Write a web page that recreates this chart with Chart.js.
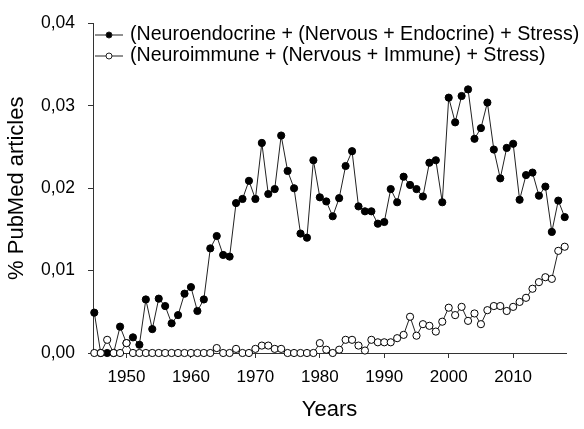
<!DOCTYPE html>
<html><head><meta charset="utf-8">
<script src="https://cdn.jsdelivr.net/npm/chart.js@4"></script>
<style>html,body{margin:0;padding:0;background:#fff}canvas{display:block}</style>
</head><body>
<canvas id="c" width="584" height="429"></canvas>
<script>
const years = [1945,1946,1947,1948,1949,1950,1951,1952,1953,1954,1955,1956,1957,1958,1959,1960,1961,1962,1963,1964,1965,1966,1967,1968,1969,1970,1971,1972,1973,1974,1975,1976,1977,1978,1979,1980,1981,1982,1983,1984,1985,1986,1987,1988,1989,1990,1991,1992,1993,1994,1995,1996,1997,1998,1999,2000,2001,2002,2003,2004,2005,2006,2007,2008,2009,2010,2011,2012,2013,2014,2015,2016,2017,2018];
const neuroendocrine = [0.0049,0,0,0,0.0032,0.0012,0.0019,0.0010,0.0065,0.0029,0.0066,0.0057,0.0036,0.0046,0.0072,0.0080,0.0051,0.0065,0.0127,0.0142,0.0119,0.0117,0.0182,0.0187,0.0209,0.0187,0.0255,0.0193,0.0199,0.0264,0.0221,0.0200,0.0145,0.0140,0.0234,0.0189,0.0184,0.0166,0.0188,0.0227,0.0245,0.0178,0.0172,0.0172,0.0157,0.0159,0.0199,0.0183,0.0214,0.0204,0.0199,0.0190,0.0231,0.0234,0.0183,0.0310,0.0280,0.0312,0.0320,0.0260,0.0273,0.0304,0.0247,0.0212,0.0249,0.0254,0.0186,0.0216,0.0219,0.0191,0.0202,0.0147,0.0185,0.0165];
const neuroimmune = [0,0,0.0016,0,0,0.0012,0,0,0,0,0,0,0,0,0,0,0,0,0,0.0006,0,0,0.0005,0,0,0.0005,0.0009,0.0009,0.0005,0.0005,0,0,0,0,0,0.0012,0.0004,0,0.0004,0.0016,0.0016,0.0009,0.0003,0.0016,0.0013,0.0013,0.0013,0.0018,0.0022,0.0044,0.0021,0.0035,0.0033,0.0026,0.0038,0.0055,0.0046,0.0056,0.0039,0.0048,0.0035,0.0052,0.0057,0.0057,0.0051,0.0056,0.0062,0.0067,0.0078,0.0086,0.0092,0.0090,0.0124,0.0129];
const seriesLabels = ['(Neuroendocrine + (Nervous + Endocrine) + Stress)', '(Neuroimmune + (Nervous + Immune) + Stress)'];
const xTicks = [1950,1960,1970,1980,1990,2000,2010];
const yTicks = [0,0.01,0.02,0.03,0.04];
const xTitle = 'Years';
const yTitle = '% PubMed articles';

const FONT = "'Liberation Sans', Arial, sans-serif";
const AXIS = '#333';

const legendPlugin = {
  id: 'customLegend',
  afterDatasetsDraw(chart) {
    const ctx = chart.ctx;
    chart.data.datasets.forEach((ds, i) => {
      const y = 35 + i * 21;
      ctx.save();
      ctx.strokeStyle = '#222'; ctx.lineWidth = 1;
      ctx.beginPath(); ctx.moveTo(95, y); ctx.lineTo(123, y); ctx.stroke();
      ctx.beginPath(); ctx.arc(109, y, 3, 0, Math.PI * 2);
      ctx.fillStyle = ds.pointBackgroundColor; ctx.fill(); ctx.stroke();
      ctx.fillStyle = '#000'; ctx.font = '19.6px ' + FONT;
      ctx.textBaseline = 'middle'; ctx.textAlign = 'left';
      ctx.fillText(ds.label, 130, y);
      ctx.restore();
    });
  }
};

const mk = (arr) => years.map((x, i) => ({x: x, y: arr[i]}));

new Chart(document.getElementById('c'), {
  type: 'line',
  data: {
    datasets: [
      {label: seriesLabels[0], data: mk(neuroendocrine), borderColor: '#222', borderWidth: 1, order: 2,
       pointBackgroundColor: '#000', pointBorderColor: '#000', pointBorderWidth: 1, pointRadius: 3.6,
       tension: 0, clip: false},
      {label: seriesLabels[1], data: mk(neuroimmune), borderColor: '#222', borderWidth: 1, order: 1,
       pointBackgroundColor: '#fff', pointBorderColor: '#000', pointBorderWidth: 1, pointRadius: 3.6,
       tension: 0, clip: false}
    ]
  },
  options: {
    responsive: false, animation: false,
    layout: {padding: {top: 13, right: 18, left: 0, bottom: 0}},
    plugins: {legend: {display: false}, tooltip: {enabled: false}},
    scales: {
      x: {
        type: 'linear', min: 1944.8, max: 2018.2,
        afterBuildTicks: s => { s.ticks = xTicks.map(v => ({value: v})); },
        afterFit: s => { s.height = 76; },
        ticks: {font: {size: 17, family: FONT}, color: '#000', padding: 9, maxRotation: 0, autoSkip: false,
                callback: v => String(v)},
        grid: {display: true, drawOnChartArea: false, drawTicks: true, tickLength: 5, color: AXIS},
        border: {display: true, color: AXIS, width: 1},
        title: {display: true, text: xTitle, color: '#000', font: {size: 22, family: FONT}, padding: {top: 8, bottom: 6}}
      },
      y: {
        min: 0, max: 0.04,
        afterBuildTicks: s => { s.ticks = yTicks.map(v => ({value: v})); },
        afterFit: s => { s.width = 93; },
        ticks: {font: {size: 17.5, family: FONT}, color: '#000', padding: 13,
                callback: v => v.toFixed(2).replace('.', ',')},
        grid: {display: true, drawOnChartArea: false, drawTicks: true, tickLength: 5, color: AXIS},
        border: {display: true, color: AXIS, width: 1},
        title: {display: true, text: yTitle, color: '#000', font: {size: 22, family: FONT}, padding: {top: 4, bottom: 0}}
      }
    }
  },
  plugins: [legendPlugin]
});
</script>
</body></html>
